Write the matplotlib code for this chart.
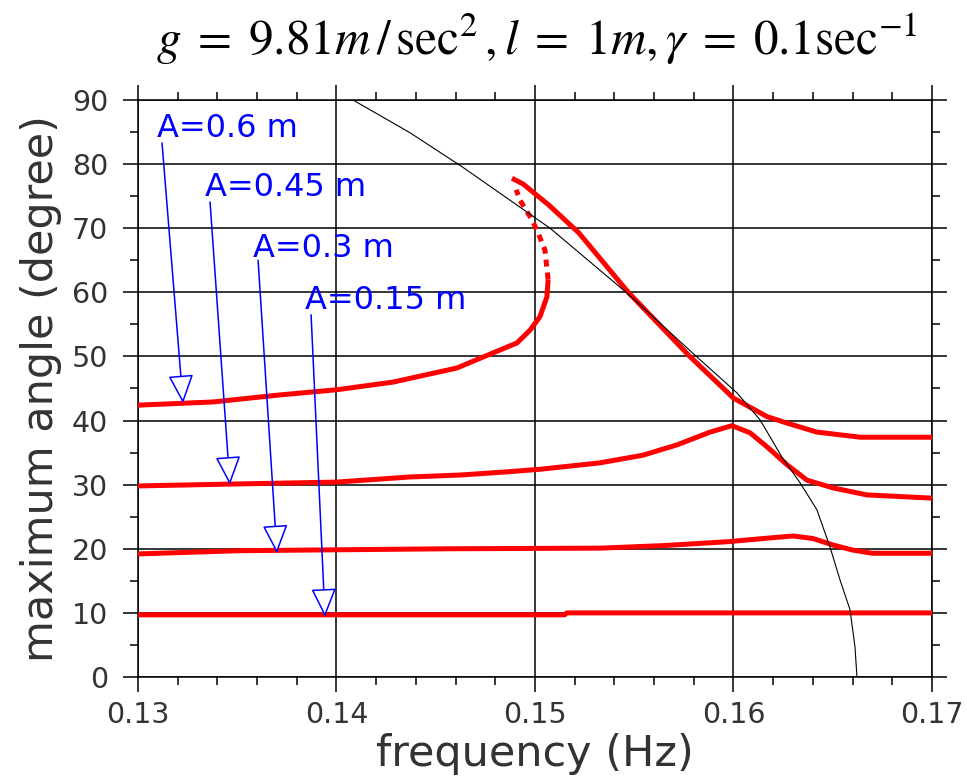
import numpy as np
import matplotlib.pyplot as plt
from matplotlib.ticker import MultipleLocator

plt.rcParams['mathtext.fontset'] = 'stix'

# backbone (free oscillation frequency vs amplitude)
f_bb = [0.14083, 0.1437, 0.14632, 0.15076, 0.15463, 0.15806, 0.16018,
        0.16134, 0.16244, 0.16335, 0.1642, 0.16486, 0.16537, 0.16587,
        0.16612, 0.16622]
a_bb = [90, 84.9, 79.6, 70.0, 59.9, 50.2, 44.3, 40.1, 34.3, 30.3, 26.1,
        20.3, 15.1, 10.5, 4.7, 0]

# forced response, A = 0.15 m
f_015 = [0.13, 0.1515, 0.1516, 0.17]
a_015 = [9.7, 9.7, 10.0, 10.0]

# A = 0.3 m
f_03 = [0.13, 0.1351, 0.1456, 0.1533, 0.1565, 0.1597, 0.1615, 0.1630,
        0.1640, 0.1650, 0.1660, 0.1670, 0.17]
a_03 = [19.2, 19.7, 20.0, 20.1, 20.5, 21.1, 21.6, 22.0, 21.6, 20.6, 19.8,
        19.3, 19.3]

# A = 0.45 m
f_045 = [0.13, 0.13479, 0.14, 0.1437, 0.14622, 0.14859, 0.15025, 0.15327,
         0.15544, 0.15715, 0.15882, 0.15992, 0.16083, 0.16169, 0.1627,
         0.1637, 0.16501, 0.16673, 0.17]
a_045 = [29.8, 30.1, 30.4, 31.2, 31.5, 32.0, 32.4, 33.4, 34.6, 36.2, 38.2,
         39.2, 38.1, 35.9, 33.1, 30.7, 29.5, 28.4, 27.9]

# A = 0.6 m: lower stable branch, unstable branch, upper stable branch
f_06_low = [0.13, 0.13378, 0.13715, 0.14, 0.14285, 0.14607, 0.14738,
            0.14909, 0.14975, 0.15025, 0.1506, 0.15066]
a_06_low = [42.4, 42.9, 44.0, 44.8, 46.0, 48.2, 49.9, 52.1, 54.1, 56.2,
            59.3, 62.0]
f_06_mid = [0.15066, 0.1505, 0.15015, 0.14985, 0.14924, 0.14905]
a_06_mid = [62.0, 66.6, 69.3, 71.3, 74.4, 76.0]
f_06_up = [0.14884, 0.1494, 0.1507, 0.1522, 0.1547, 0.1578, 0.1600,
           0.1617, 0.1627, 0.1642, 0.1664, 0.17]
a_06_up = [77.8, 76.9, 73.6, 69.3, 60.0, 50.0, 43.5, 40.6, 39.6, 38.2,
           37.4, 37.4]

labels = ['A=0.6 m', 'A=0.45 m', 'A=0.3 m', 'A=0.15 m']
label_xy = [(0.13096, 85.6), (0.13338, 76.4), (0.13579, 66.9), (0.13841, 58.8)]
arrow_from = [(0.13121, 83.3), (0.13363, 74.1), (0.13605, 65.0), (0.13872, 56.5)]
arrow_to = [(0.13227, 42.7), (0.13463, 30.0), (0.1370, 19.3), (0.13942, 9.4)]

fig = plt.figure(figsize=(9.67, 7.78), dpi=100)
ax = fig.add_axes([0.14271, 0.12982, 0.82109, 0.74165])

red = dict(color='#ff0000', lw=3.6, solid_capstyle='butt', zorder=3)
ax.plot(f_015, a_015, **red)
ax.plot(f_03, a_03, **red)
ax.plot(f_045, a_045, **red)
ax.plot(f_06_low, a_06_low, **red)
ax.plot(f_06_up, a_06_up, **red)
ax.plot(f_06_mid, a_06_mid, color='#ff0000', lw=3.6, ls=(0, (1.4, 1.2)), zorder=3)
ax.plot(f_bb, a_bb, color='k', lw=0.8, zorder=4)

for txt, pos, p0, p1 in zip(labels, label_xy, arrow_from, arrow_to):
    ax.text(pos[0], pos[1], txt, color='#0000ff', fontsize=23,
            ha='left', va='center', zorder=5)
    ax.annotate('', xy=p1, xytext=p0,
                arrowprops=dict(arrowstyle='-|>,head_length=18,head_width=8',
                                mutation_scale=1, color='#0000ff', fc='white',
                                lw=1.1, shrinkA=0, shrinkB=0), zorder=5)

ax.set_xlim(0.13, 0.17)
ax.set_ylim(0, 90)
ax.set_xticks([0.13, 0.14, 0.15, 0.16, 0.17])
ax.set_xticklabels(['0.13', '0.14', '0.15', '0.16', '0.17'])
ax.set_yticks(np.arange(0, 91, 10))
ax.xaxis.set_minor_locator(MultipleLocator(0.002))
ax.yaxis.set_minor_locator(MultipleLocator(5))
ax.tick_params(which='both', direction='out', top=True, right=True,
               width=1.1, colors='k', labelcolor='#333333', labelsize=20.5)
ax.tick_params(which='major', length=11)
ax.tick_params(which='minor', length=5.8)
ax.tick_params(axis='x', which='major', pad=6.5)
ax.tick_params(axis='y', which='major', pad=10.5)
ax.grid(True, which='major', color='k', lw=1.1)
for s in ax.spines.values():
    s.set_linewidth(1.1)

ax.set_xlabel('frequency (Hz)', fontsize=31, color='#333333')
ax.set_ylabel('maximum angle (degree)', fontsize=31, color='#333333')
ax.xaxis.set_label_coords(0.5, -0.097)
ax.yaxis.set_label_coords(-0.096, 0.5)

fig.text(0.555, 0.949,
         r'$g\;=\;9.81m\,/\,\sec^{2}, l\;=\;1m, \gamma\;=\;0.1\sec^{-1}$',
         fontsize=35.5, ha='center', va='center')

fig.savefig('out.png', dpi=100)
